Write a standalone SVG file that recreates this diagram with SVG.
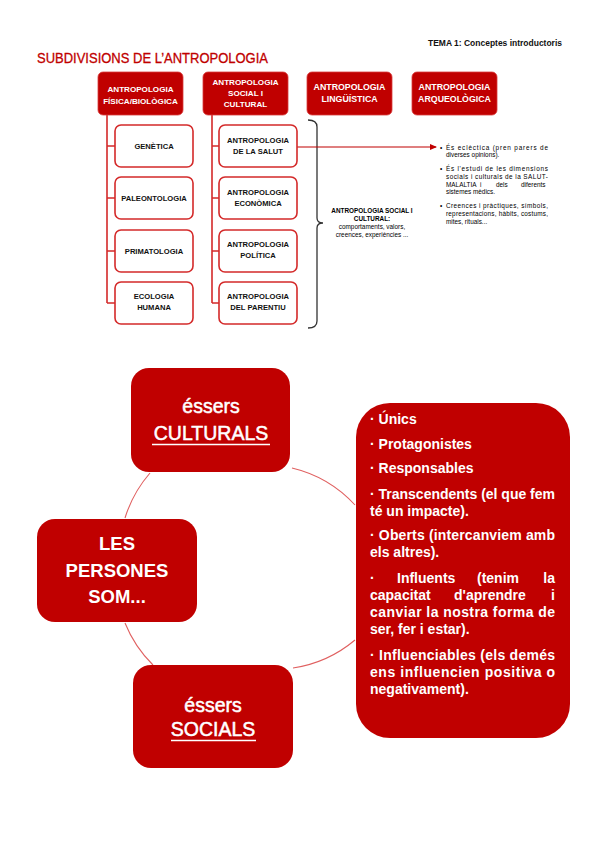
<svg xmlns="http://www.w3.org/2000/svg" width="599" height="848" viewBox="0 0 599 848">
<defs>
<style>
.hdr{fill:#c00000;}
.top{fill:#c00000;stroke:#d83a3a;stroke-width:0.8;}
.topt{font-family:"Liberation Sans",Arial,sans-serif;font-weight:bold;fill:#fff;text-anchor:middle;}
.child{fill:#fff;stroke:#d42a2a;stroke-width:1.6;}
.childt{font-family:"Liberation Sans",Arial,sans-serif;font-weight:bold;fill:#111;text-anchor:middle;font-size:7.6px;}
.tree{stroke:#d42a2a;stroke-width:1.6;fill:none;}
.small{font-family:"Liberation Sans",Arial,sans-serif;fill:#000;font-size:6.4px;}
.big{fill:#c00000;}
.bigt{font-family:"Liberation Sans",Arial,sans-serif;fill:#fff;text-anchor:middle;}
.semi{stroke:#fff;stroke-width:0.5;}
.list{font-family:"Liberation Sans",Arial,sans-serif;font-weight:bold;fill:#fff;font-size:14px;}
.ring{stroke:#e06060;stroke-width:1.1;fill:none;}
</style>
<marker id="arr" markerWidth="8" markerHeight="8" refX="6" refY="3" orient="auto" markerUnits="userSpaceOnUse">
<path d="M0,0 L7,3 L0,6 Z" fill="#c00000"/>
</marker>
</defs>
<rect width="599" height="848" fill="#fff"/>

<text x="428" y="46" font-family="Liberation Sans, Arial, sans-serif" font-weight="bold" font-size="8.5" fill="#111" textLength="134" lengthAdjust="spacingAndGlyphs">TEMA 1: Conceptes introductoris</text>
<text x="37" y="63" font-family="Liberation Sans, Arial, sans-serif" font-size="14.5" fill="#c00000" stroke="#c00000" stroke-width="0.3" textLength="231" lengthAdjust="spacingAndGlyphs">SUBDIVISIONS DE L’ANTROPOLOGIA</text>

<g id="connectors">
<path class="tree" d="M107,115 V303 M107,146 H115 M107,198 H115 M107,251 H115 M107,303 H115"/>
<path class="tree" d="M212,115 V303 M212,146 H219 M212,198 H219 M212,251 H219 M212,303 H219"/>
<path d="M308,120 Q317,120 317,127 V218 Q317,223 323,223 Q317,223 317,228 V321 Q317,328 308,328" fill="none" stroke="#333" stroke-width="1.3"/>
<line x1="297" y1="147" x2="436" y2="147" stroke="#c00000" stroke-width="1.2" marker-end="url(#arr)"/>
<path class="ring" d="M150,473 A125,125 0 0 0 125,518"/>
<path class="ring" d="M125,623 A125,125 0 0 0 153,665"/>
<path class="ring" d="M293,668 A125,125 0 0 0 355,640"/>
<path class="ring" d="M355,505 A125,125 0 0 0 292,468"/>
</g>

<g id="n-fisica">
<rect class="top" x="98" y="72" width="85" height="43" rx="5"/>
<text class="topt" font-size="8.1" x="140.5" y="92">ANTROPOLOGIA</text>
<text class="topt" font-size="8.1" x="140.5" y="103.5">FÍSICA/BIOLÒGICA</text>
</g>
<g id="n-social">
<rect class="top" x="203" y="72" width="85" height="43" rx="5"/>
<text class="topt" font-size="8.1" x="245.5" y="85">ANTROPOLOGIA</text>
<text class="topt" font-size="8.1" x="245.5" y="96">SOCIAL I</text>
<text class="topt" font-size="8.1" x="245.5" y="107">CULTURAL</text>
</g>
<g id="n-ling">
<rect class="top" x="307" y="72" width="85" height="43" rx="5"/>
<text class="topt" font-size="8.8" x="349.5" y="90">ANTROPOLOGIA</text>
<text class="topt" font-size="8.8" x="349.5" y="102">LINGÜÍSTICA</text>
</g>
<g id="n-arq">
<rect class="top" x="412" y="72" width="85" height="43" rx="5"/>
<text class="topt" font-size="8.8" x="454.5" y="90">ANTROPOLOGIA</text>
<text class="topt" font-size="8.8" x="454.5" y="102">ARQUEOLÒGICA</text>
</g>

<g id="n-genetica"><rect class="child" x="115" y="125" width="78" height="42" rx="6"/><text class="childt" x="154" y="149">GENÈTICA</text></g>
<g id="n-paleo"><rect class="child" x="115" y="177" width="78" height="42" rx="6"/><text class="childt" x="154" y="201">PALEONTOLOGIA</text></g>
<g id="n-primato"><rect class="child" x="115" y="230" width="78" height="42" rx="6"/><text class="childt" x="154" y="254">PRIMATOLOGIA</text></g>
<g id="n-ecologia"><rect class="child" x="115" y="282" width="78" height="42" rx="6"/><text class="childt" x="154" y="299">ECOLOGIA</text><text class="childt" x="154" y="310">HUMANA</text></g>

<g id="n-salut"><rect class="child" x="219" y="125" width="78" height="42" rx="6"/><text class="childt" x="258" y="143">ANTROPOLOGIA</text><text class="childt" x="258" y="154">DE LA SALUT</text></g>
<g id="n-economica"><rect class="child" x="219" y="177" width="78" height="42" rx="6"/><text class="childt" x="258" y="195">ANTROPOLOGIA</text><text class="childt" x="258" y="206">ECONÒMICA</text></g>
<g id="n-politica"><rect class="child" x="219" y="230" width="78" height="42" rx="6"/><text class="childt" x="258" y="247">ANTROPOLOGIA</text><text class="childt" x="258" y="258">POLÍTICA</text></g>
<g id="n-parentiu"><rect class="child" x="219" y="282" width="78" height="42" rx="6"/><text class="childt" x="258" y="299">ANTROPOLOGIA</text><text class="childt" x="258" y="310">DEL PARENTIU</text></g>

<g id="n-bracket-label">
<text class="small" x="372" y="213" text-anchor="middle" font-weight="bold">ANTROPOLOGIA SOCIAL I</text>
<text class="small" x="372" y="221" text-anchor="middle" font-weight="bold">CULTURAL:</text>
<text class="small" x="372" y="229" text-anchor="middle">comportaments, valors,</text>
<text class="small" x="372" y="237" text-anchor="middle">creences, experiències ...</text>
</g>

<g id="n-salut-notes">
<text class="small" x="440" y="149.5">•</text>
<text class="small" x="446" y="149.5" textLength="102" lengthAdjust="spacing">És eclèctica (pren parers de</text>
<text class="small" x="446" y="157">diverses opinions).</text>
<text class="small" x="440" y="170.5">•</text>
<text class="small" x="446" y="170.5" textLength="102" lengthAdjust="spacing">És l'estudi de les dimensions</text>
<text class="small" x="446" y="178.5" textLength="102" lengthAdjust="spacing">socials i culturals de la SALUT-</text>
<text class="small" x="446" y="186.5"><tspan x="446">MALALTIA</tspan><tspan x="480">i</tspan><tspan x="496">dels</tspan><tspan x="521">diferents</tspan></text>
<text class="small" x="446" y="194">sistemes mèdics.</text>
<text class="small" x="440" y="207.5">•</text>
<text class="small" x="446" y="207.5" textLength="102" lengthAdjust="spacing">Creences i pràctiques, símbols,</text>
<text class="small" x="446" y="215.5" textLength="102" lengthAdjust="spacing">representacions, hàbits, costums,</text>
<text class="small" x="446" y="223.5">mites, rituals...</text>
</g>

<g id="n-culturals">
<rect class="big" x="131" y="368" width="159" height="104" rx="18"/>
<text class="bigt semi" font-size="19.5" x="211" y="413">éssers</text>
<text class="bigt semi" font-size="19.5" x="211" y="440">CULTURALS</text>
<line x1="152" y1="444.5" x2="270" y2="444.5" stroke="#fff" stroke-width="1.6"/>
</g>
<g id="n-persones">
<rect class="big" x="37" y="519" width="160" height="103" rx="18"/>
<text class="bigt" font-size="18.5" font-weight="bold" x="117" y="550">LES</text>
<text class="bigt" font-size="18.5" font-weight="bold" x="117" y="577">PERSONES</text>
<text class="bigt" font-size="18.5" font-weight="bold" x="117" y="603">SOM...</text>
</g>
<g id="n-socials">
<rect class="big" x="133" y="665" width="160" height="103" rx="18"/>
<text class="bigt semi" font-size="19.5" x="213" y="712">éssers</text>
<text class="bigt semi" font-size="19.5" x="213" y="736">SOCIALS</text>
<line x1="171" y1="740.5" x2="256" y2="740.5" stroke="#fff" stroke-width="1.6"/>
</g>

<g id="n-llista">
<rect class="big" x="356" y="403" width="214" height="335" rx="34"/>
<text class="list" x="370" y="424">· Únics</text>
<text class="list" x="370" y="449">· Protagonistes</text>
<text class="list" x="370" y="473">· Responsables</text>
<text class="list" x="370" y="499" textLength="185" lengthAdjust="spacing">· Transcendents (el que fem</text>
<text class="list" x="370" y="516">té un impacte).</text>
<text class="list" x="370" y="540" textLength="185" lengthAdjust="spacing">· Oberts (intercanviem amb</text>
<text class="list" x="370" y="557">els altres).</text>
<text class="list" y="583"><tspan x="370">·</tspan><tspan x="397">Influents</tspan><tspan x="477">(tenim</tspan><tspan x="543.3">la</tspan></text>
<text class="list" y="600"><tspan x="370">capacitat</tspan><tspan x="454">d'aprendre</tspan><tspan x="551">i</tspan></text>
<text class="list" x="370" y="617" textLength="185" lengthAdjust="spacing">canviar la nostra forma de</text>
<text class="list" x="370" y="634">ser, fer i estar).</text>
<text class="list" x="370" y="660" textLength="185" lengthAdjust="spacing">· Influenciables (els demés</text>
<text class="list" x="370" y="677" textLength="185" lengthAdjust="spacing">ens influencien positiva o</text>
<text class="list" x="370" y="694">negativament).</text>
</g>
</svg>
